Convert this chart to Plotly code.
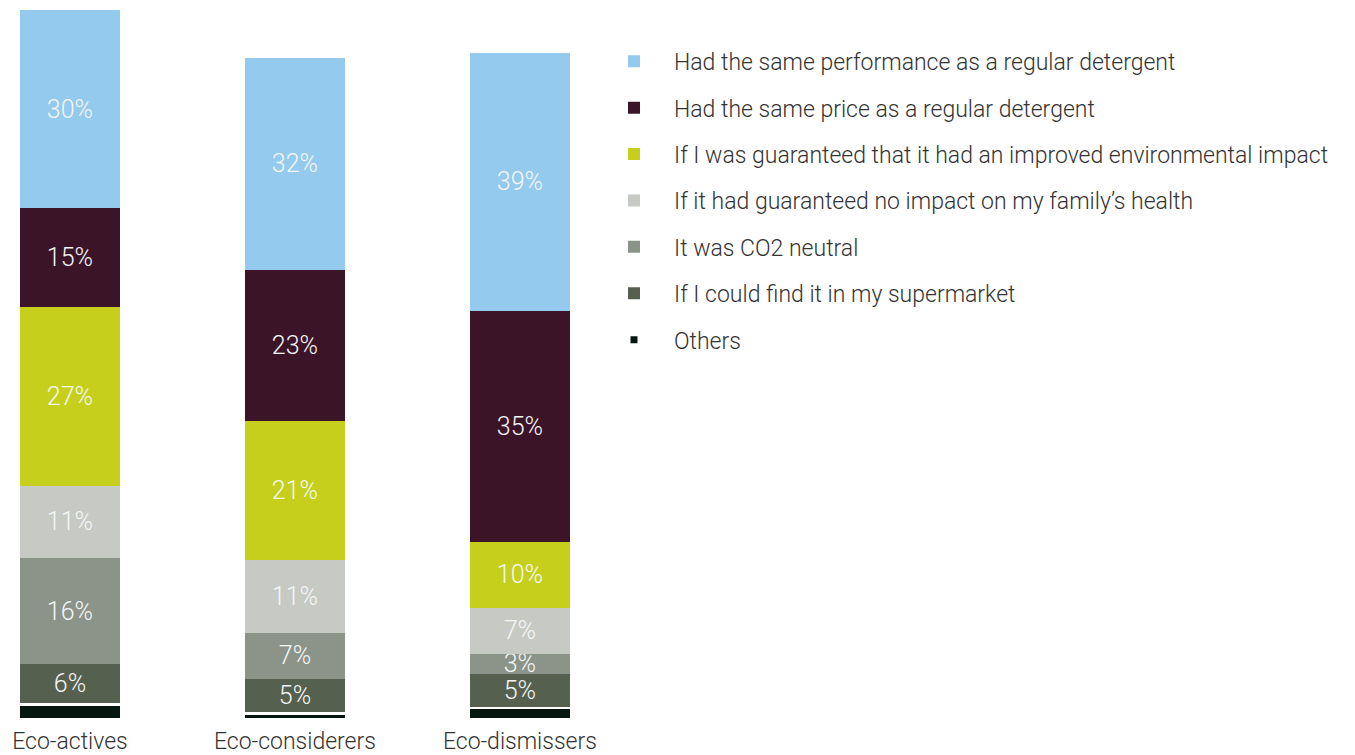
import plotly.graph_objects as go

# Segments, stacked from the bottom of each bar upwards
segments = [
    "Others",
    "If I could find it in my supermarket",
    "It was CO2 neutral",
    "If it had guaranteed no impact on my family\u2019s health",
    "If I was guaranteed that it had an improved environmental impact",
    "Had the same price as a regular detergent",
    "Had the same performance as a regular detergent",
]
groups = ["Eco-actives", "Eco-considerers", "Eco-dismissers"]

others = [2.5, 1.2, 2]
supermarket = [6, 5, 5]
co2_neutral = [16, 7, 3]
family_health = [11, 11, 7]
environmental = [27, 21, 10]
same_price = [15, 23, 35]
same_performance = [30, 32, 39]

values = [others, supermarket, co2_neutral, family_health,
          environmental, same_price, same_performance]
colors = ["#07160f", "#56604f", "#8c9388", "#c7c9c5",
          "#c6d01c", "#3c1428", "#93caee"]

BAR_WIDTH = 0.445
GAP_STROKE = 5  # white outline separating "Others" from the stack

fig = go.Figure()
n = len(segments)
for i, (name, vals, col) in enumerate(zip(segments, values, colors)):
    is_other = name == "Others"
    fig.add_trace(go.Bar(
        x=groups,
        y=vals,
        name=name,
        legendgroup=f"g{i}",
        legendrank=n - i,
        marker=dict(color=col,
                    line=dict(color="white", width=GAP_STROKE if is_other else 0)),
        width=BAR_WIDTH + (GAP_STROKE / 225 if is_other else 0),
        text=None if is_other else [f"{v}%" for v in vals],
        textposition="inside",
        insidetextanchor="middle",
        textangle=0,
        textfont=dict(family="Roboto", size=25, color="#f4f6f6", weight=300),
        hoverinfo="skip",
    ))

fig.update_layout(
    barmode="stack",
    width=1355,
    height=755,
    margin=dict(l=0, r=755, t=10, b=31),
    paper_bgcolor="white",
    plot_bgcolor="white",
    uniformtext=dict(mode="show", minsize=25),
    showlegend=True,
    legend=dict(
        x=0.99,
        y=0.958,
        xanchor="left",
        yanchor="top",
        traceorder="grouped",
        tracegroupgap=13.5,
        font=dict(family="Roboto", size=23, color="#333333", weight=300),
        itemwidth=70,
        bgcolor="rgba(0,0,0,0)",
    ),
    xaxis=dict(
        range=[-0.311, 2.356],
        showgrid=False,
        showline=False,
        zeroline=False,
        ticks="",
        ticklabelstandoff=5,
        tickfont=dict(family="Roboto", size=23, color="#333333", weight=300),
        fixedrange=True,
    ),
    yaxis=dict(
        range=[0, 107.5],
        visible=False,
        fixedrange=True,
    ),
)

fig.write_html("out.html")
